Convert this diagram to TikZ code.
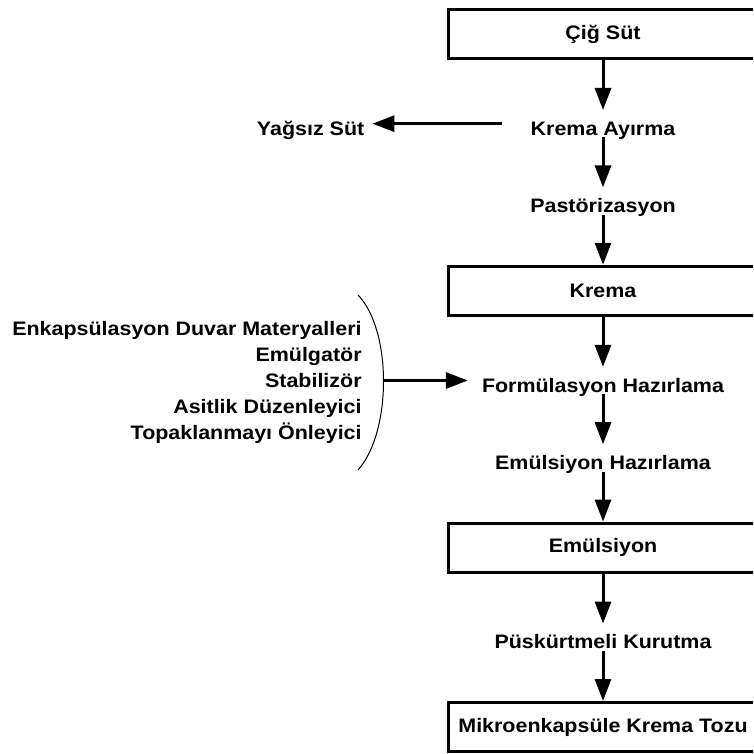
\documentclass[tikz,border=0pt]{standalone}
\usepackage{fontspec}
\setmainfont{Liberation Sans}[FakeStretch=1.1]
\usetikzlibrary{arrows.meta,positioning}

\begin{document}
\begin{tikzpicture}[x=1pt,y=1pt,% pixel-like units
			node distance=50pt,
			every node/.style={
				font=\fontsize{19.5}{25.8}\selectfont\bfseries,
				inner sep=0pt
			},
			adim/.style={text height=25pt,text depth=2pt},	% process step, plain text
			kutu/.style={draw,line width=3pt,minimum width=309pt,minimum height=49pt},	% product box
			every edge/.style={draw,line width=3pt,-{Triangle[length=22pt,width=16pt]}}
		]
		\useasboundingbox (0,0) rectangle (753,-754);
		\clip (0,0) rectangle (753,-754);
		\node[kutu](cig) at (603,-34){Çiğ Süt};
		\node[adim](ayirma)[below=of cig]{Krema Ayırma};
		\node[adim](pastor)[below=of ayirma]{Pastörizasyon};
		\node[kutu](krema)[below=of pastor]{Krema};
		\node[adim](formul)[below=of krema]{Formülasyon Hazırlama};
		\node[adim](emhaz)[below=of formul]{Emülsiyon Hazırlama};
		\node[kutu](emuls)[below=of emhaz]{Emülsiyon};
		\node[adim](kurut)[below=of emuls]{Püskürtmeli Kurutma};
		\node[kutu](toz)[below=of kurut]{Mikroenkapsüle Krema Tozu};
		\node[adim](yagsiz)[left=166pt of ayirma]{Yağsız Süt};
		\node[align=right,yshift=-2pt](katki)[left=120pt of formul]{Enkapsülasyon Duvar Materyalleri\\ Emülgatör\\ Stabilizör\\ Asitlik Düzenleyici\\ Topaklanmayı Önleyici};
		\coordinate[left=98pt of formul](kavis);
		% parenthesis round the additives
		\draw[line width=1pt] (358,-295) .. controls (392,-330) and (392,-432) .. (358,-470);
		\path
		(cig)edge (ayirma)
		(ayirma)edge (pastor)
		(pastor)edge (krema)
		(krema)edge (formul)
		(formul)edge (emhaz)
		(emhaz)edge (emuls)
		(emuls)edge (kurut)
		(kurut)edge (toz)
		(ayirma)edge[shorten <=28pt,shorten >=8pt] (yagsiz)
		(kavis)edge[shorten >=14pt] (formul)
		;
	\end{tikzpicture}
\end{document}
